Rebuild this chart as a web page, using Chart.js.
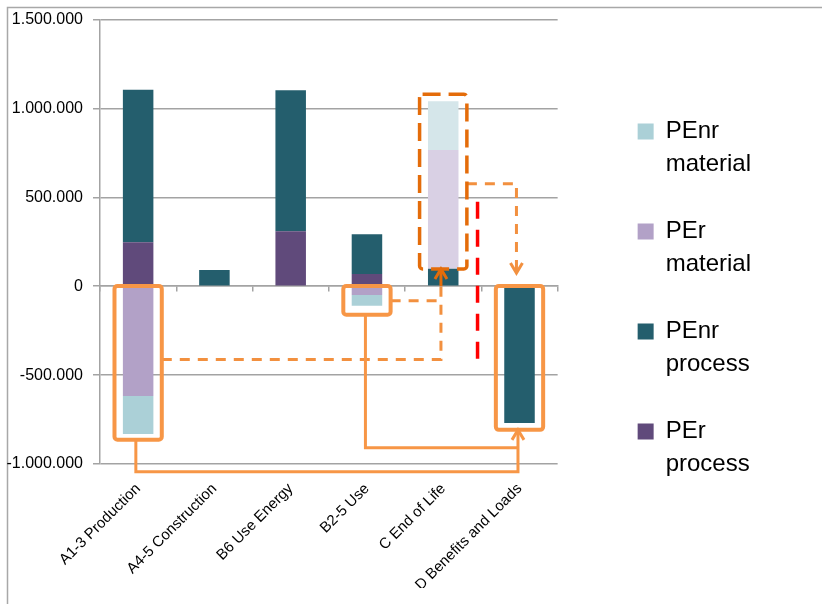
<!DOCTYPE html>
<html>
<head>
<meta charset="utf-8">
<title>Primary energy per life cycle stage</title>
<script src="https://cdn.jsdelivr.net/npm/chart.js@4.4.1/dist/chart.umd.min.js"></script>
<style>
  html, body { margin: 0; padding: 0; background: #fff; }
  #wrap { width: 822px; height: 604px; }
</style>
</head>
<body>
<div id="wrap"><canvas id="chart" width="822" height="604"></canvas></div>
<script>
// life cycle stages (x categories)
const stages = ['A1-3 Production', 'A4-5 Construction', 'B6 Use Energy', 'B2-5 Use', 'C End of Life', 'D Benefits and Loads'];

// stacked values, bottom of the stack first
const perProcess   = [247000, null, 309000, 69000, null, null];
const penrProcess  = [859000, 91000, 793000, 223000, 98000, -769000];
const perMaterial  = [-618000, null, null, -49000, 669000, null];
const penrMaterial = [-213000, null, null, -61000, 273000, null];

const yTicks = [-1000000, -500000, 0, 500000, 1000000, 1500000];

const fadedStage = 'C End of Life';
const gridColor = '#a3a3a3';
const FONT = "'Liberation Sans', Arial, sans-serif";
Chart.defaults.font.family = FONT;

function dotted(v) {
    const s = Math.abs(v).toString().replace(/\B(?=(\d{3})+(?!\d))/g, '.');
    return (v < 0 ? '-' : '') + s;
}

// grey frame round the chart (left and top only, the rest is cut off)
const frame = {
    id: 'frame',
    beforeDraw(chart) {
        const ctx = chart.ctx;
        ctx.save();
        ctx.strokeStyle = '#a8a8a8';
        ctx.lineWidth = 1.5;
        ctx.beginPath();
        ctx.moveTo(7.5, chart.height);
        ctx.lineTo(7.5, 7.5);
        ctx.lineTo(chart.width, 7.5);
        ctx.stroke();
        ctx.restore();
    }
};

// orange boxes and arrows, given in category / value units
const half = 0.31;
const callouts = {
    id: 'callouts',
    afterDatasetsDraw(chart) {
        const { ctx, scales: { x, y } } = chart;
        const X = v => x.getPixelForValue(v);
        const Y = v => y.getPixelForValue(v);

        function path(pts, color, width, dash) {
            ctx.save();
            ctx.strokeStyle = color;
            ctx.lineWidth = width;
            ctx.setLineDash(dash || []);
            ctx.beginPath();
            pts.forEach((p, i) => i ? ctx.lineTo(X(p[0]), Y(p[1])) : ctx.moveTo(X(p[0]), Y(p[1])));
            ctx.stroke();
            ctx.restore();
        }
        function box(at, top, bottom, color, width, dash) {
            ctx.save();
            ctx.strokeStyle = color;
            ctx.lineWidth = width;
            ctx.setLineDash(dash || []);
            ctx.beginPath();
            const l = X(at - half), r = X(at + half), t = Y(top), b = Y(bottom);
            ctx.roundRect(l, t, r - l, b - t, 3);
            ctx.stroke();
            ctx.restore();
        }
        function chevron(at, val, dir, color) {
            const px = X(at), py = Y(val);
            ctx.save();
            ctx.strokeStyle = color;
            ctx.lineWidth = 3;
            ctx.beginPath();
            ctx.moveTo(px - 6, py - dir * 10);
            ctx.lineTo(px, py);
            ctx.lineTo(px + 6, py - dir * 10);
            ctx.stroke();
            ctx.restore();
        }

        const solid = '#f79646', dark = '#e46c0a', light = '#f2903f', red = '#ff0000';

        // light dashed links towards end of life
        path([[half, -412000], [3.97, -412000], [3.97, 0]], light, 3, [10, 8]);
        path([[3 + half, -82000], [3.97, -82000]], light, 3, [10, 8]);
        path([[4 + half, 577000], [4.96, 577000], [4.96, 74000]], light, 3, [10, 8]);
        chevron(4.96, 74000, 1, light);

        // end of life dashed box and arrow into it
        box(4, 1080000, 97000, dark, 3.5, [18, 8]);
        path([[3.97, 0], [3.97, 97000]], dark, 3);
        chevron(3.97, 97000, -1, dark);

        // red separator
        path([[4.45, 476000], [4.45, -428000]], red, 3.5, [17, 11]);

        // solid boxes and links to D
        box(0, 2000, -864000, solid, 4);
        box(3, 2000, -160000, solid, 4);
        box(5, 2000, -808000, solid, 4);
        path([[-0.03, -864000], [-0.03, -1043000], [4.98, -1043000], [4.98, -808000]], solid, 3);
        path([[2.98, -160000], [2.98, -909000], [4.98, -909000]], solid, 3);
        chevron(4.98, -808000, -1, solid);
    }
};

const legendColors = ['#604a7b', '#245e6d', '#b2a1c7', '#abd0d7'];

new Chart(document.getElementById('chart'), {
    type: 'bar',
    data: {
        labels: stages,
        datasets: [
            { label: 'PEr process', data: perProcess, backgroundColor: '#604a7b' },
            { label: 'PEnr process', data: penrProcess, backgroundColor: '#245e6d' },
            { label: 'PEr material', data: perMaterial,
              backgroundColor: stages.map(s => s === fadedStage ? '#d9d0e4' : '#b2a1c7') },
            { label: 'PEnr material', data: penrMaterial,
              backgroundColor: stages.map(s => s === fadedStage ? '#d5e6ea' : '#abd0d7') }
        ]
    },
    options: {
        responsive: false,
        animation: false,
        barPercentage: 0.4,
        categoryPercentage: 1,
        layout: { padding: { left: 0, right: 61, top: 17, bottom: 16 } },
        scales: {
            x: {
                stacked: true,
                grid: { display: false, drawTicks: false },
                border: { display: false },
                ticks: {
                    autoSkip: false, minRotation: 45, maxRotation: 45,
                    padding: 16, labelOffset: 0, color: '#000',
                    font: { family: FONT, size: 15 }
                },
                afterFit: s => { s.height = 124; }
            },
            x0: {
                axis: 'x', type: 'category', position: { y: 0 }, offset: true,
                grid: { offset: true, drawOnChartArea: false, drawTicks: true, tickLength: 5, color: gridColor, lineWidth: 1.5 },
                border: { display: true, color: gridColor, width: 1.5 },
                ticks: { display: false }
            },
            y: {
                stacked: true,
                min: -1000000, max: 1500000,
                afterBuildTicks: s => { s.ticks = yTicks.map(v => ({ value: v })); },
                grid: { color: gridColor, lineWidth: 1.5, tickLength: 7 },
                border: { color: gridColor, width: 1.5 },
                ticks: { padding: 10, color: '#000', font: { family: FONT, size: 16 }, callback: v => dotted(v) },
                afterFit: s => { s.width = 100; }
            },
            // empty space between the plot and the legend
            gap: {
                axis: 'y', type: 'linear', position: 'right', display: false,
                afterFit: s => { s.width = 46; }
            }
        },
        plugins: {
            tooltip: { enabled: false },
            legend: {
                position: 'right',
                align: 'center',
                labels: {
                    boxWidth: 16, boxHeight: 16, padding: 34, color: '#000',
                    font: { family: FONT, size: 24, lineHeight: 1.375 },
                    generateLabels: chart => chart.data.datasets.map((ds, i) => ({
                        text: ds.label.split(' '),
                        fillStyle: legendColors[i],
                        strokeStyle: legendColors[i],
                        lineWidth: 0,
                        hidden: false,
                        datasetIndex: i
                    })).reverse()
                }
            }
        }
    },
    plugins: [frame, callouts]
});
</script>
</body>
</html>
